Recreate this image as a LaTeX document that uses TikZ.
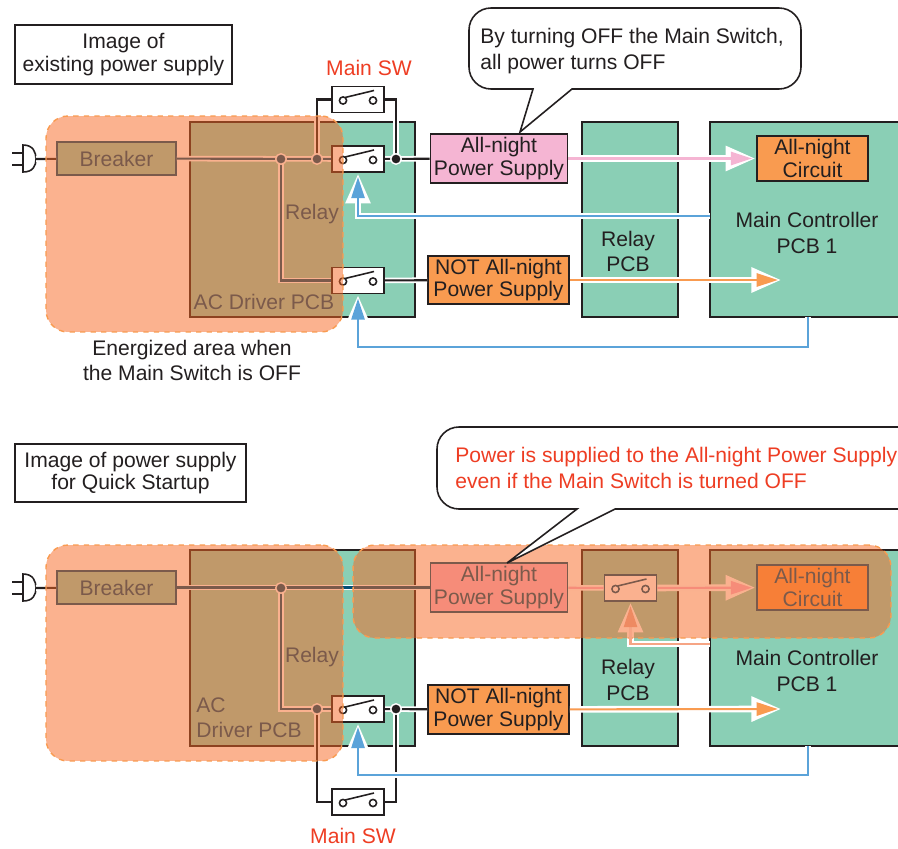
\documentclass[tikz,border=0pt]{standalone}
\usepackage{fontspec}
\setmainfont{Liberation Sans}
\usetikzlibrary{positioning,arrows.meta}
\definecolor{pcbgreen}{HTML}{8ACFB5}
\definecolor{nightpink}{HTML}{F5B5D3}
\definecolor{supplyorange}{HTML}{F99B50}
\definecolor{ctrlblue}{HTML}{5BA3D9}
\definecolor{notered}{HTML}{EE3D23}
\definecolor{inkblack}{HTML}{231F20}
\definecolor{areaorange}{HTML}{F76520}
\definecolor{relayflow}{HTML}{EE8A62}
\definecolor{relayline}{HTML}{F6A585}
\definecolor{underink}{HTML}{004F77}
\tikzset{
  pics/swmark/.style={code={
    \draw[line width=.9pt] (-15,1) circle (3.6);
    \draw[line width=.9pt] (15,1) circle (3.6);
    \draw[line width=.9pt] (-13,-2) -- (16,-9);
  }},
  pics/plugmark/.style={code={
    \draw[line width=.9pt] (-13,-14) .. controls (-3,-14) and (0,-7) .. (0,0)
      .. controls (0,7) and (-3,13) .. (-13,13) -- cycle;
    \draw[line width=.9pt] (-13,-6) -- (-24,-6);
    \draw[line width=.9pt] (-13,6) -- (-24,6);
  }},
}
\begin{document}
\begin{tikzpicture}[
  x=0.02cm, y=-0.02cm, inkblack,
  txt/.style={font=\fontsize{12}{12.6}\selectfont, text=inkblack, align=center, inner sep=0pt},
  wide/.style={font=\fontsize{12}{14.4}\selectfont, text=inkblack, inner sep=0pt},
  redtxt/.style={wide, text=notered},
  board/.style={draw=inkblack, line width=.9pt, fill=pcbgreen, inner sep=0pt},
  part/.style={draw=inkblack, line width=1pt, inner sep=0pt, txt},
  under/.style={draw=underink, text=underink},
  swbox/.style={draw=inkblack, line width=1pt, fill=white, minimum width=1.04cm, minimum height=.52cm, inner sep=0pt},
  wire/.style={line width=1.2pt, draw=inkblack, preaction={draw=white, line width=3.2pt}},
  uwire/.style={line width=1.2pt, draw=underink, preaction={draw=white, line width=3.2pt}},
  jdot/.style={circle, fill=inkblack, draw=white, line width=.8pt, minimum size=.21cm, inner sep=0pt},
  ujdot/.style={jdot, fill=underink},
  halo/.style={draw=white, line width=3.8pt, shorten >=.4pt, -{Triangle[length=17pt,width=13.5pt]}},
  flow/.style={draw=#1, line width=1.2pt, shorten >=2.4pt, -{Triangle[length=12pt,width=7.5pt]}},
  area/.style={rounded corners=.44cm, fill=areaorange, fill opacity=.5, draw=supplyorange, dashed, line width=.8pt, inner sep=0pt},
  callbox/.style={draw=inkblack, fill=white, line width=.9pt},
  capbox/.style={draw=inkblack, line width=.9pt, fill=white, txt},
]
\clip (0,0) rectangle (898,848);

% ====== Upper panel: boards ======
\node[board, minimum width=4.5cm, minimum height=3.9cm] (acA) at (302.5,219.5) {};
\node[board, minimum width=1.92cm, minimum height=3.9cm] (relayA) at (630,219.5) {};
\node[board, minimum width=4.4cm, minimum height=3.9cm] (mainA) at (820,219.5) {};
\node[capbox, minimum width=4.34cm, minimum height=1.18cm] (capA) at (123.5,54.5) {Image of\\existing power supply};
\node[txt, text=underink] (relayLblA) at (312,214.5) {Relay};
\node[txt, text=underink] (acLblA) at (264,302) {AC Driver PCB};
\node[wide, align=center] (relayPcbA) at (628,251.5) {Relay\\PCB};
\node[wide, align=center] (mainLblA) at (807,233) {Main Controller\\PCB 1};

% ====== Upper panel: parts ======
\pic at (36,159) {plugmark};
\coordinate (plugA) at (36,159);
\node[part, under, fill=pcbgreen, minimum width=2.38cm, minimum height=.66cm] (brkA) at (116.5,158.5) {Breaker};
\node[swbox] (swMainA) at (358,99.5) {};
\node[swbox] (swA) at (358,159) {};
\node[swbox] (swB) at (358,280.5) {};
\node[part, fill=nightpink, minimum width=2.74cm, minimum height=.98cm] (pinkA) at (499,158.5) {All-night\\Power Supply};
\node[part, fill=supplyorange, minimum width=2.82cm, minimum height=.96cm] (notA) at (498.5,280) {NOT All-night\\Power Supply};
\node[part, fill=supplyorange, minimum width=2.22cm, minimum height=.9cm] (cirA) at (812.5,158.5) {All-night\\Circuit};
\coordinate (j1) at (281,159);
\coordinate (j2) at (317,159);
\coordinate (j3) at (396,159);
\coordinate (fbA) at (710,216);
\coordinate (fbB) at (808,317);

% ====== Upper panel: wires ======
\draw[wire] (plugA) -- (brkA);
\draw[wire] (j2) |- (swMainA);
\draw[wire] (j3) |- (swMainA);
\draw[uwire] (brkA) -- (swA);
\draw[uwire] (j1) |- (swB);
\draw[wire] (swA) -- (pinkA);
\draw[wire] (swB) -- (notA);
\node[ujdot] (dot1) at (j1) {};
\node[ujdot] (dot2) at (j2) {};
\node[jdot] (dot3) at (j3) {};
\node[swbox] at (swMainA) {};
\node[swbox] at (swA) {};
\node[swbox] at (swB) {};
\pic at (swMainA) {swmark};
\pic at (swA) {swmark};
\pic at (swB) {swmark};
\draw[halo] (pinkA) -- (cirA);
\draw[flow=nightpink] (pinkA) -- (cirA);
\draw[halo] (notA) -- (782,280);
\draw[flow=supplyorange] (notA) -- (782,280);
\draw[halo] (fbA) -| (swA);
\draw[flow=ctrlblue] (fbA) -| (swA);
\draw[halo] (fbB) |- (358,347) -- (swB);
\draw[flow=ctrlblue] (fbB) |- (358,347) -- (swB);

% ====== Upper panel: energized area and notes ======
\node[area, minimum width=5.94cm, minimum height=4.32cm] (areaA) at (194.5,224) {};
\node[redtxt] (swLblA) at (369,68) {Main SW};
\node[wide, align=center] (areaLblA) at (192,360.5) {Energized area when\\the Main Switch is OFF};
\draw[callbox] (533,89) [rounded corners=.44cm] -- (469,89) -- (469,8) -- (801,8) -- (801,89) [sharp corners] -- (572,89) -- (520,132) -- cycle;
\node[wide, align=left, anchor=west] (callA) at (480,51) {By turning OFF the Main Switch,\\all power turns OFF};

% ====== Lower panel: boards ======
\node[board, minimum width=4.5cm, minimum height=3.92cm] (acB) at (302.5,648) {};
\node[board, minimum width=1.92cm, minimum height=3.92cm] (relayB) at (630,648) {};
\node[board, minimum width=4.4cm, minimum height=3.92cm] (mainB) at (820,648) {};
\node[capbox, minimum width=4.62cm, minimum height=1.16cm] (capB) at (130.5,473) {Image of power supply\\for Quick Startup};
\node[txt, text=underink] (relayLblB) at (312,657.5) {Relay};
\node[wide, text=underink, align=left, anchor=west] (acLblB) at (196,718) {AC\\Driver PCB};
\node[wide, align=center] (relayPcbB) at (628,680) {Relay\\PCB};
\node[wide, align=center] (mainLblB) at (807,671) {Main Controller\\PCB 1};

% ====== Lower panel: parts ======
\pic at (36,588) {plugmark};
\coordinate (plugB) at (36,588);
\node[part, under, fill=pcbgreen, minimum width=2.38cm, minimum height=.66cm] (brkB) at (116.5,587.5) {Breaker};
\node[swbox] (swC) at (358,709) {};
\node[swbox] (swMainB) at (358,802) {};
\node[swbox, under] (swD) at (630.5,588) {};
\node[part, under, fill=nightpink, minimum width=2.74cm, minimum height=.98cm] (pinkB) at (499,587.5) {All-night\\Power Supply};
\node[part, fill=supplyorange, minimum width=2.82cm, minimum height=.98cm] (notB) at (498.5,709.5) {NOT All-night\\Power Supply};
\node[part, under, fill=supplyorange, minimum width=2.22cm, minimum height=.9cm] (cirB) at (812.5,587.5) {All-night\\Circuit};
\coordinate (j4) at (281,588);
\coordinate (j5) at (317,709);
\coordinate (j6) at (396,709);
\coordinate (fbC) at (710,644);
\coordinate (fbD) at (808,746);

% ====== Lower panel: wires ======
\draw[wire] (plugB) -- (brkB);
\draw[uwire] (brkB) -- (pinkB);
\draw[uwire] (j4) |- (swC);
\draw[wire] (j5) |- (swMainB);
\draw[wire] (j6) |- (swMainB);
\draw[wire] (swC) -- (notB);
\node[ujdot] (dot4) at (j4) {};
\node[ujdot] (dot5) at (j5) {};
\node[jdot] (dot6) at (j6) {};
\node[swbox] at (swC) {};
\node[swbox] at (swMainB) {};
\pic at (swC) {swmark};
\pic at (swMainB) {swmark};
\draw[draw=white, line width=3.2pt] (pinkB) -- (swD);
\draw[draw=nightpink, line width=1.2pt] (pinkB) -- (swD);
\draw[halo] (swD) -- (cirB);
\draw[flow=nightpink] (swD) -- (cirB);
\node[swbox, under] at (swD) {};
\pic[underink] at (swD) {swmark};
\draw[halo] (notB) -- (782,709);
\draw[flow=supplyorange] (notB) -- (782,709);
\draw[halo] (fbC) -| (swD);
\draw[halo] (fbD) |- (358,775) -- (swC);
\draw[flow=ctrlblue] (fbD) |- (358,775) -- (swC);

% ====== Lower panel: energized areas and notes ======
\node[area, minimum width=5.94cm, minimum height=4.32cm] (areaB) at (194.5,653) {};
\node[area, minimum width=10.76cm, minimum height=1.86cm] (areaC) at (622,591.5) {};
\draw[draw=relayline, line width=1.2pt, shorten >=2.4pt, -{Triangle[length=12pt,width=7.5pt,color=relayflow]}] (fbC) -| (swD);
\node[redtxt] (swLblB) at (353,836) {Main SW};
\draw[callbox] (577,509) [rounded corners=.44cm] -- (437,509) -- (437,427) -- (930,427) -- (930,509) [sharp corners] -- (615,509) -- (507,563) -- cycle;
\node[redtxt, align=left, anchor=west] (callB) at (455,468) {Power is supplied to the All-night Power Supply\\even if the Main Switch is turned OFF};

\end{tikzpicture}
\end{document}
